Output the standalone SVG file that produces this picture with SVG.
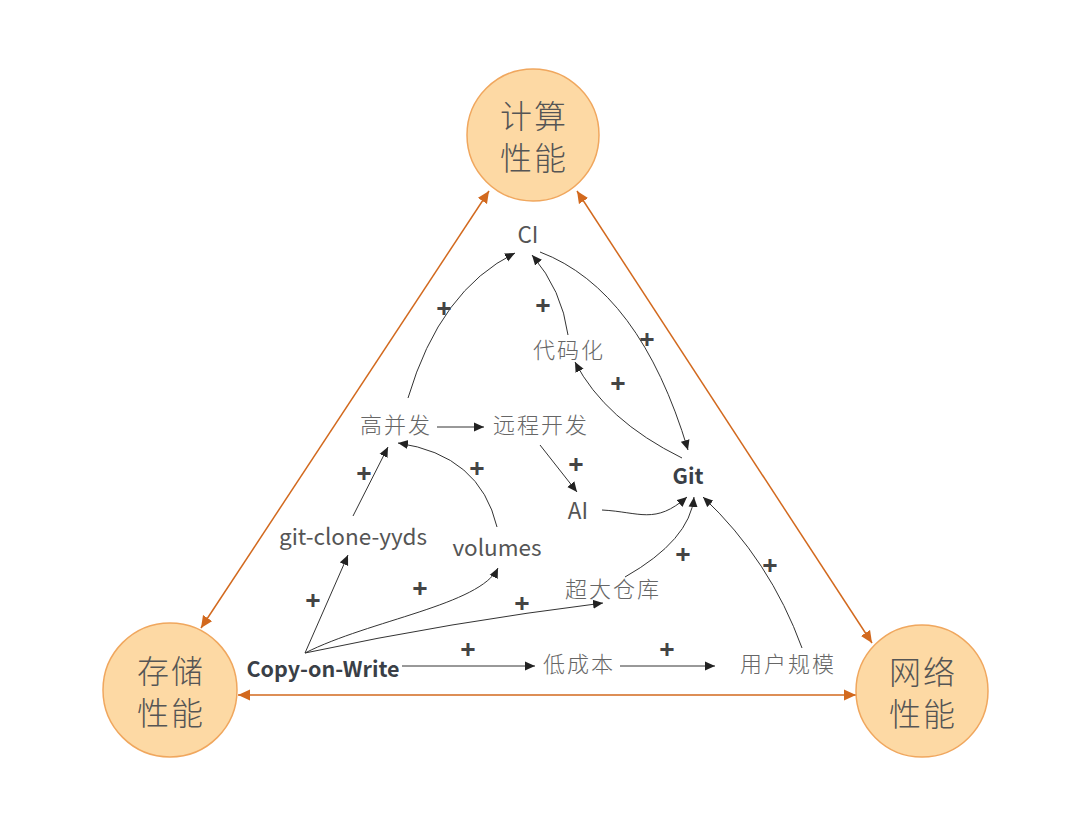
<svg xmlns="http://www.w3.org/2000/svg" width="1080" height="840" viewBox="0 0 1080 840">
<defs>
<marker id="ah" markerUnits="userSpaceOnUse" markerWidth="12" markerHeight="10" refX="10" refY="5" orient="auto">
<path d="M0,0.5 L10,5 L0,9.5 Z" fill="#222"/>
</marker>
<marker id="oh" markerUnits="userSpaceOnUse" markerWidth="14" markerHeight="12" refX="12" refY="6" orient="auto-start-reverse">
<path d="M0,0.5 L12,6 L0,11.5 Z" fill="#D2691E"/>
</marker>
<style>
.big{fill:#FDD9A4;stroke:#F0A75E;stroke-width:1.5}
.bt{font-family:"Noto Sans CJK SC","Noto Sans",sans-serif;font-size:32px;font-weight:300;fill:#555;text-anchor:middle;letter-spacing:2px}
.lb{font-family:"Noto Sans CJK SC","Noto Sans",sans-serif;font-size:22.5px;fill:#555;text-anchor:middle}
.cj{font-family:"Noto Sans CJK SC","Noto Sans",sans-serif;font-size:22px;font-weight:300;fill:#666;text-anchor:middle;letter-spacing:2px}
.bd{font-family:"Noto Sans CJK SC","Noto Sans",sans-serif;font-size:21.5px;font-weight:bold;fill:#3A3F47;text-anchor:middle}
.pl{font-family:"Noto Sans","Noto Sans CJK SC",sans-serif;font-size:27px;font-weight:bold;fill:#444;text-anchor:middle}
.e{fill:none;stroke:#333;stroke-width:1;marker-end:url(#ah)}
.o{fill:none;stroke:#D2691E;stroke-width:1.5;marker-start:url(#oh);marker-end:url(#oh)}
</style>
</defs>
<rect width="1080" height="840" fill="#fff"/>
<g id="connectors">
<path class="o" d="M489,191 L201,628"/>
<path class="o" d="M577,191 L872,643"/>
<path class="o" d="M238,695 L856,695"/>
<path class="e" d="M408,398 Q440,290 515,253"/>
<path class="e" d="M568,335 Q562,290 532,255"/>
<path class="e" d="M540,252 Q640,290 688,450"/>
<path class="e" d="M682,458 Q605,420 575,362"/>
<path class="e" d="M437,427 L484,427"/>
<path class="e" d="M540,445 L577,492"/>
<path class="e" d="M602,510 C640,512 655,525 687,497"/>
<path class="e" d="M625,577 Q690,540 694,497"/>
<path class="e" d="M802,648 Q770,560 703,497"/>
<path class="e" d="M353,516 L388,447"/>
<path class="e" d="M497,527 Q480,455 398,443"/>
<path class="e" d="M305,653 L348,555"/>
<path class="e" d="M305,653 C370,620 480,605 498,568"/>
<path class="e" d="M305,653 Q450,622 603,603"/>
<path class="e" d="M402,666 L535,666"/>
<path class="e" d="M620,666 L715,666"/>
<text class="pl" x="444" y="318">+</text>
<text class="pl" x="543" y="315">+</text>
<text class="pl" x="647" y="349">+</text>
<text class="pl" x="618" y="393">+</text>
<text class="pl" x="576" y="474">+</text>
<text class="pl" x="683" y="564">+</text>
<text class="pl" x="770" y="575">+</text>
<text class="pl" x="364" y="483">+</text>
<text class="pl" x="477" y="478">+</text>
<text class="pl" x="313" y="610">+</text>
<text class="pl" x="420" y="598">+</text>
<text class="pl" x="522" y="613">+</text>
<text class="pl" x="468" y="659">+</text>
<text class="pl" x="667" y="659">+</text>
</g>
<g id="compute"><circle class="big" cx="533" cy="135" r="66"/><text class="bt" x="534" y="128">计算</text><text class="bt" x="534" y="170">性能</text></g>
<g id="storage"><circle class="big" cx="170" cy="690" r="67"/><text class="bt" x="171" y="683">存储</text><text class="bt" x="171" y="725">性能</text></g>
<g id="network"><circle class="big" cx="922" cy="691" r="66"/><text class="bt" x="923" y="684">网络</text><text class="bt" x="923" y="726">性能</text></g>
<g id="ci"><text class="lb" x="528" y="243">CI</text></g>
<g id="daimahua"><text class="cj" x="569" y="358">代码化</text></g>
<g id="gaobingfa"><text class="cj" x="396" y="433">高并发</text></g>
<g id="yuancheng"><text class="cj" x="541" y="433">远程开发</text></g>
<g id="git"><text class="bd" x="688" y="484">Git</text></g>
<g id="ai"><text class="lb" x="578" y="519">AI</text></g>
<g id="gitclone"><text class="lb" x="353" y="545">git-clone-yyds</text></g>
<g id="volumes"><text class="lb" x="497" y="556">volumes</text></g>
<g id="chaoda"><text class="cj" x="613" y="597">超大仓库</text></g>
<g id="cow"><text class="bd" x="323" y="677">Copy-on-Write</text></g>
<g id="dichengben"><text class="cj" x="579" y="672">低成本</text></g>
<g id="yonghu"><text class="cj" x="788" y="672">用户规模</text></g>
</svg>
